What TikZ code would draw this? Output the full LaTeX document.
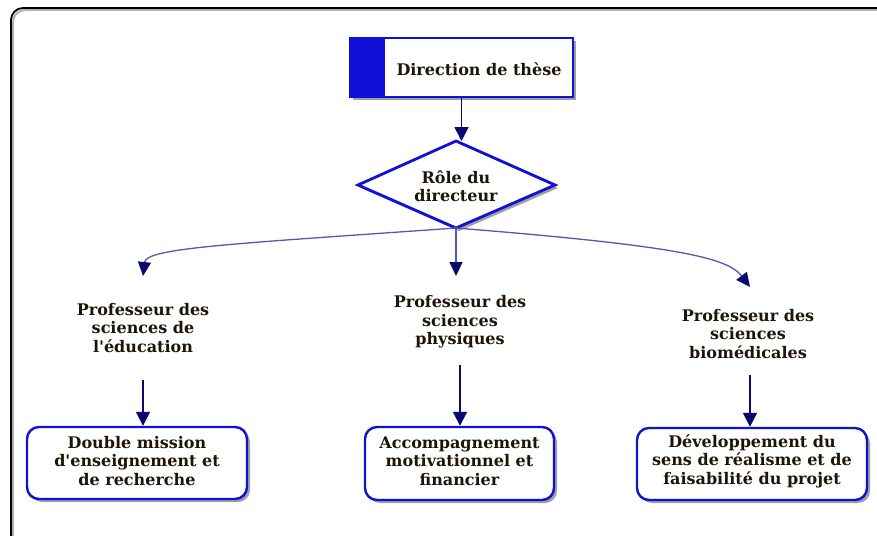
\documentclass[tikz,border=0pt]{standalone}
\usepackage{fontspec}
\setmainfont{DejaVu Serif}[Ligatures=TeXOff]
\usetikzlibrary{arrows.meta,shapes.geometric,shadows}
\definecolor{navy}{HTML}{0A0A6E}
\definecolor{bblue}{HTML}{1010D8}
\definecolor{slate}{HTML}{5858A8}
\definecolor{txt}{HTML}{1E1408}
\tikzset{
  lbl/.style={align=center,font=\bfseries\fontsize{16}{18.5}\selectfont,text=txt,inner sep=0pt},
  shad/.style={drop shadow={shadow xshift=3pt,shadow yshift=-3pt,fill=gray!75,opacity=1}},
  endbox/.style={draw=bblue,line width=2.4pt,fill=white,rounded corners=12pt,shad},
  bigarrow/.style={draw=navy,line width=1.8pt,-{Triangle[width=14pt,length=14pt]}},
  curvearrow/.style={draw=slate,line width=1.3pt,-{Triangle[width=13pt,length=14pt,fill=navy,color=navy]}},
}
\begin{document}
\begin{tikzpicture}[x=1pt,y=-1pt]
\useasboundingbox (0,0) rectangle (877,535);
\fill[white] (0,0) rectangle (877,535);
\begin{scope}
\clip (0,0) rectangle (877,535);
\draw[gray!60,line width=2pt,rounded corners=12pt] (13,10) rectangle (905,565);
\draw[black,line width=1.8pt,rounded corners=12pt] (11,8) rectangle (903,563);
\end{scope}
% top box
\path[fill=white,draw=bblue,line width=1.8pt,shad] (350,38) rectangle (573,97);
\fill[bblue] (350,38) rectangle (385,97);
\draw[bblue,line width=1.8pt] (350,38) rectangle (573,97);
\coordinate (topb) at (461.5,97);
\node[lbl] (top) at (479,69) {Direction de thèse};
% diamond
\path[fill=white,draw=bblue,line width=2.8pt,shad] (358,185) -- (456,141) -- (555,185) -- (456,228) -- cycle;
\coordinate (dtop) at (461.5,141);
\coordinate (dbot) at (456,228);
\node[lbl] (role) at (456,186) {Rôle du\\directeur};
\draw[bigarrow] (topb) -- (dtop);
% professors
\node[lbl] (p1) at (143,328) {Professeur des\\sciences de\\l'éducation};
\node[lbl] (p2) at (460,322) {Professeur des\\sciences\\physiques};
\node[lbl] (p3) at (748,334) {Professeur des\\sciences\\biomédicales};
\coordinate (t1) at (143,276);
\coordinate (t2) at (456,276);
\coordinate (t3) at (750,287);
\draw[curvearrow] (dbot) .. controls (230,244) and (146,248) .. (t1);
\draw[curvearrow] (dbot) -- (t2);
\draw[curvearrow] (dbot) .. controls (680,246) and (728,258) .. (t3);
% bottom boxes
\node[endbox,minimum width=220pt,minimum height=72pt] (b1) at (137,463) {};
\node[lbl] (b1t) at (137,461) {Double mission\\d'enseignement et\\de recherche};
\node[endbox,minimum width=189pt,minimum height=73pt] (b2) at (459.5,463.5) {};
\node[lbl] (b2t) at (459.5,461) {Accompagnement\\motivationnel et\\financier};
\node[endbox,minimum width=230pt,minimum height=72pt] (b3) at (752,464) {};
\node[lbl] (b3t) at (752,461) {Développement du\\sens de réalisme et de\\faisabilité du projet};
\coordinate (s1) at (143,380);
\coordinate (s2) at (460,365);
\coordinate (s3) at (750,375);
\draw[bigarrow] (s1) -- (b1.north -| s1);
\draw[bigarrow] (s2) -- (b2.north -| s2);
\draw[bigarrow] (s3) -- (b3.north -| s3);
\end{tikzpicture}
\end{document}
